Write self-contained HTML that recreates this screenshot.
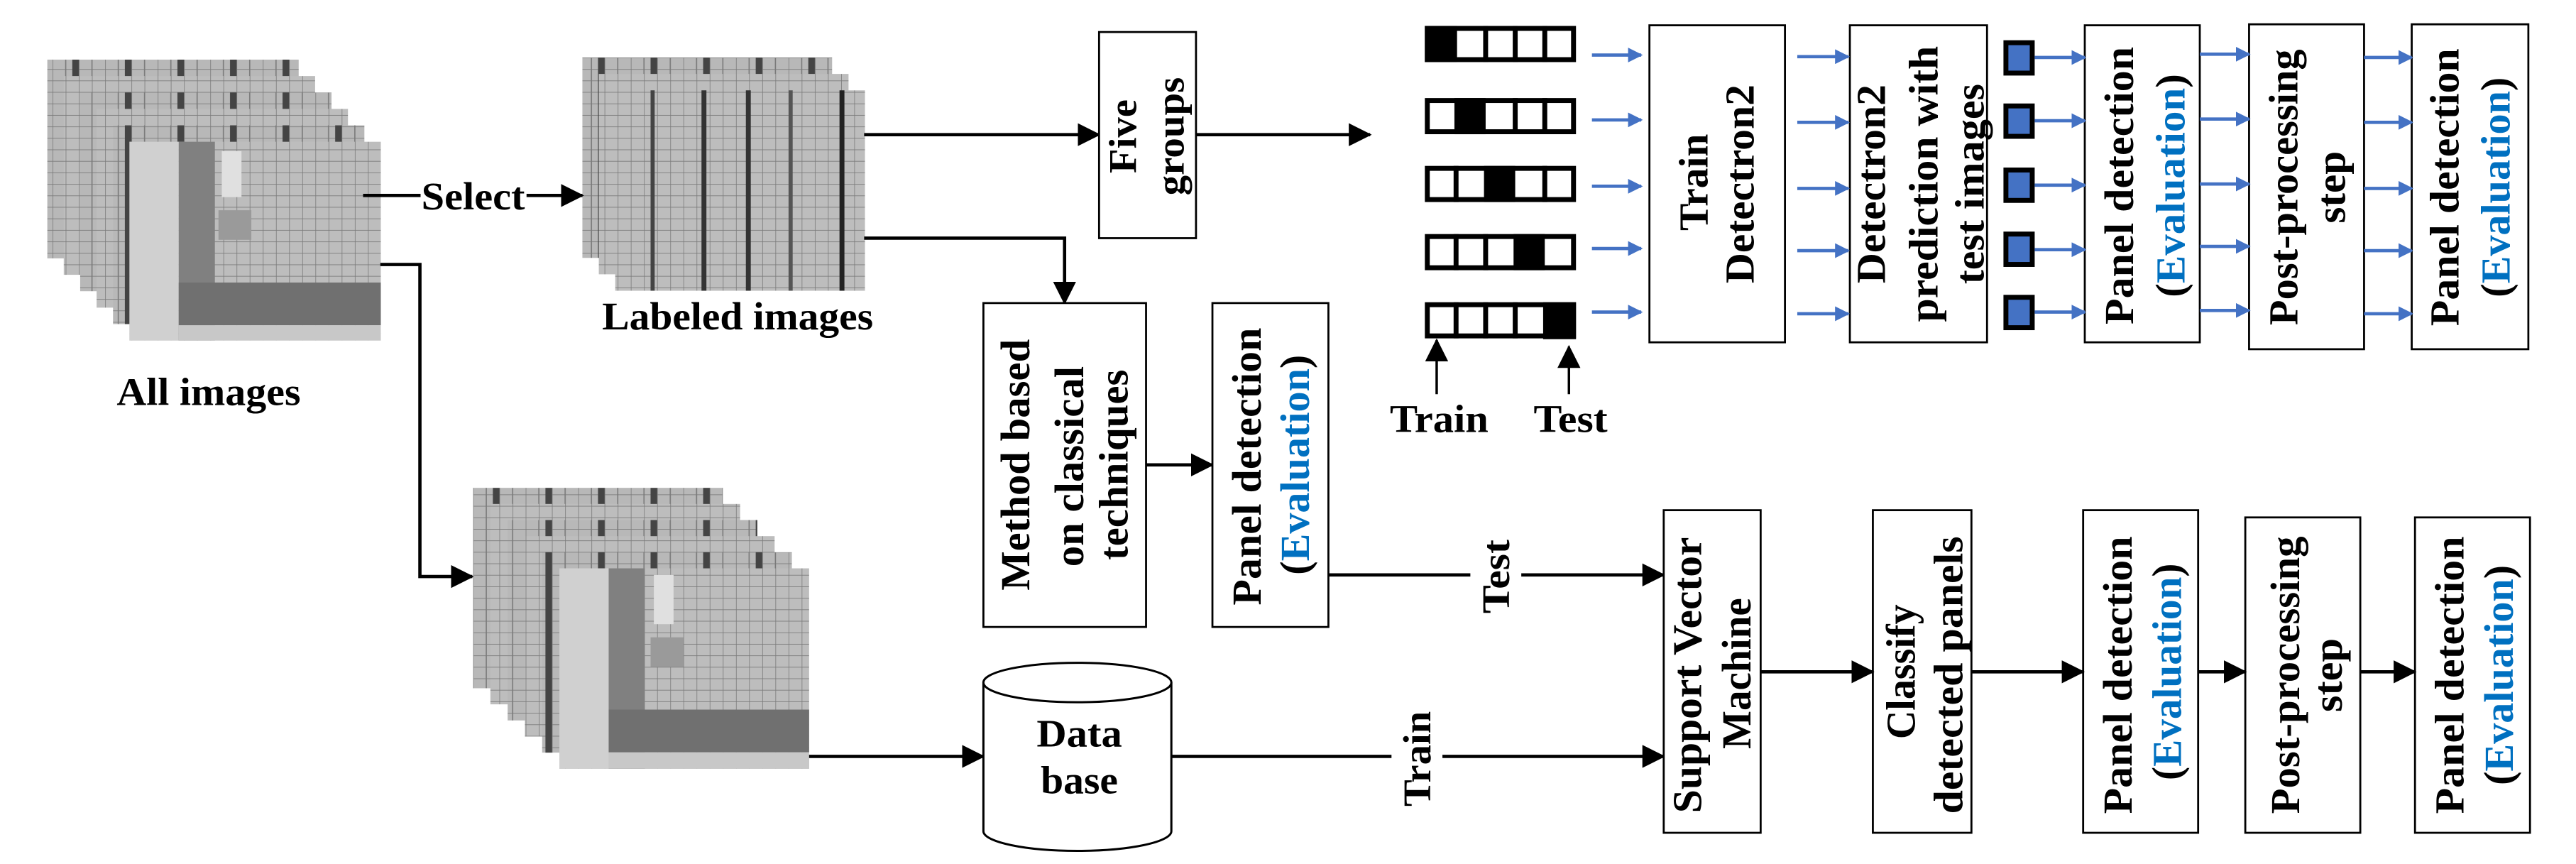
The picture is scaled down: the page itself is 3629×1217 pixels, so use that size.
<!DOCTYPE html>
<html><head><meta charset="utf-8"><style>
html,body{margin:0;padding:0;background:#fff;}
svg{display:block;}
text{font-family:"Liberation Serif",serif;font-weight:bold;fill:#000;}
</style></head><body>
<svg width="3629" height="1217" viewBox="0 0 1568 526" preserveAspectRatio="none" xmlns="http://www.w3.org/2000/svg">
<defs>
<pattern id="g" patternUnits="userSpaceOnUse" width="8" height="7">
<rect width="8" height="7" fill="#bdbdbd"/>
<path d="M0 0H8M0 0V7" stroke="#7a7a7a" stroke-width="0.7"/>
</pattern>
<pattern id="gd" patternUnits="userSpaceOnUse" width="32" height="7">
<rect width="32" height="7" fill="#b8b8b8"/>
<path d="M0 0H32M0 0V7M8 0V7M16 0V7M24 0V7" stroke="#7a7a7a" stroke-width="0.7"/>
<rect x="12" y="0" width="4" height="7" fill="#444"/>
</pattern>
<marker id="ab" markerWidth="14" markerHeight="14" refX="13" refY="7" orient="auto" markerUnits="userSpaceOnUse"><path d="M0 0L14 7L0 14z" fill="#000"/></marker>
<marker id="abl" markerWidth="9" markerHeight="9" refX="8" refY="4.5" orient="auto" markerUnits="userSpaceOnUse"><path d="M0 0L9 4.5L0 9z" fill="#4472c4"/></marker>
</defs>

<g>
<rect x="28.8" y="36.3" width="153" height="121" fill="url(#gd)"/>
<rect x="38.8" y="46.3" width="153" height="121" fill="url(#g)"/>
<rect x="48.8" y="56.3" width="153" height="121" fill="url(#gd)"/>
<rect x="58.8" y="66.3" width="153" height="121" fill="url(#g)"/>
<rect x="68.8" y="76.3" width="153" height="121" fill="url(#gd)"/>
<rect x="78.8" y="86.3" width="153" height="121" fill="url(#g)"/>
<rect x="78.8" y="86.3" width="30" height="121" fill="#d0d0d0"/>
<rect x="108.8" y="86.3" width="22" height="121" fill="#808080"/>
<rect x="108.8" y="172" width="123" height="26" fill="#707070"/>
<rect x="108.8" y="198" width="123" height="9.3" fill="#c8c8c8"/>
<rect x="135" y="92" width="12" height="28" fill="#e0e0e0"/>
<rect x="133" y="128" width="20" height="18" fill="#9a9a9a"/>
</g>
<text x="127" y="246.5" font-size="24" text-anchor="middle" textLength="112" lengthAdjust="spacingAndGlyphs">All images</text>

<g>
<rect x="354.5" y="35" width="152" height="122" fill="url(#gd)"/>
<rect x="364.5" y="45" width="152" height="122" fill="url(#g)"/>
<rect x="374.5" y="55" width="152" height="122" fill="url(#g)"/>
<rect x="396" y="55" width="2.5" height="122" fill="#444"/>
<rect x="427" y="55" width="3" height="122" fill="#333"/>
<rect x="454" y="55" width="3" height="122" fill="#333"/>
<rect x="480" y="55" width="2.5" height="122" fill="#555"/>
<rect x="511" y="55" width="3" height="122" fill="#222"/>
</g>
<text x="449" y="200.6" font-size="24" text-anchor="middle" textLength="165" lengthAdjust="spacingAndGlyphs">Labeled images</text>

<line x1="221" y1="119" x2="256" y2="119" stroke="#000" stroke-width="2"/>
<text x="288" y="127.5" font-size="24" text-anchor="middle" textLength="63" lengthAdjust="spacingAndGlyphs">Select</text>
<line x1="320.5" y1="119" x2="354.5" y2="119" stroke="#000" stroke-width="2" marker-end="url(#ab)"/>

<polyline points="231.5,161 255.6,161 255.6,351 287.5,351" fill="none" stroke="#000" stroke-width="2" marker-end="url(#ab)"/>

<g>
<rect x="288" y="297" width="152" height="122" fill="url(#gd)"/>
<rect x="298.5" y="306.8" width="152" height="122" fill="url(#g)"/>
<rect x="309" y="316.6" width="152" height="122" fill="url(#gd)"/>
<rect x="319.5" y="326.4" width="152" height="122" fill="url(#g)"/>
<rect x="330" y="336.2" width="152" height="122" fill="url(#gd)"/>
<rect x="340.5" y="346" width="152" height="122" fill="url(#g)"/>
<rect x="340.5" y="346" width="30" height="122" fill="#d0d0d0"/>
<rect x="370.5" y="346" width="22" height="122" fill="#808080"/>
<rect x="370.5" y="432" width="122" height="26" fill="#707070"/>
<rect x="370.5" y="458" width="122" height="10" fill="#c8c8c8"/>
<rect x="398" y="350" width="12" height="30" fill="#e0e0e0"/>
<rect x="396" y="388" width="20" height="18" fill="#9a9a9a"/>
</g>
<line x1="492.5" y1="460.5" x2="598.6" y2="460.5" stroke="#000" stroke-width="2" marker-end="url(#ab)"/>

<path d="M598.6 415.5 V506 A57.2 12 0 0 0 713 506 V415.5" fill="#fff" stroke="#000" stroke-width="1.3"/>
<ellipse cx="655.8" cy="415.5" rx="57.2" ry="12" fill="#fff" stroke="#000" stroke-width="1.3"/>
<text x="657" y="454.5" font-size="24" text-anchor="middle" textLength="52" lengthAdjust="spacingAndGlyphs">Data</text>
<text x="657" y="483" font-size="24" text-anchor="middle" textLength="47" lengthAdjust="spacingAndGlyphs">base</text>

<line x1="526" y1="82" x2="669" y2="82" stroke="#000" stroke-width="2" marker-end="url(#ab)"/>
<rect x="669" y="19.5" width="59" height="125.5" fill="#fff" stroke="#000" stroke-width="1.2"/>
<g font-size="24" dominant-baseline="central" text-anchor="middle">
<text transform="translate(684,83) rotate(-90)" textLength="45" lengthAdjust="spacingAndGlyphs">Five</text>
<text transform="translate(713,83) rotate(-90)" textLength="72" lengthAdjust="spacingAndGlyphs">groups</text>
</g>
<line x1="728" y1="82" x2="834" y2="82" stroke="#000" stroke-width="2" marker-end="url(#ab)"/>

<polyline points="526,145 648,145 648,184.5" fill="none" stroke="#000" stroke-width="2" marker-end="url(#ab)"/>
<rect x="598.6" y="184.5" width="99" height="197.2" fill="#fff" stroke="#000" stroke-width="1.2"/>
<g font-size="25" dominant-baseline="central" text-anchor="middle">
<text transform="translate(618,283) rotate(-90)" textLength="153" lengthAdjust="spacingAndGlyphs">Method based</text>
<text transform="translate(651,284) rotate(-90)" textLength="122" lengthAdjust="spacingAndGlyphs">on classical</text>
<text transform="translate(678,283) rotate(-90)" textLength="116" lengthAdjust="spacingAndGlyphs">techniques</text>
</g>
<line x1="697.6" y1="283" x2="738" y2="283" stroke="#000" stroke-width="2" marker-end="url(#ab)"/>
<rect x="738" y="184.5" width="70.6" height="197.2" fill="#fff" stroke="#000" stroke-width="1.2"/>
<g font-size="25" dominant-baseline="central" text-anchor="middle">
<text transform="translate(759,284) rotate(-90)" textLength="169" lengthAdjust="spacingAndGlyphs">Panel detection</text>
<text transform="translate(788,283) rotate(-90)" textLength="134" lengthAdjust="spacingAndGlyphs">(<tspan fill="#0070c0">Evaluation</tspan>)</text>
</g>

<line x1="808.6" y1="350" x2="895" y2="350" stroke="#000" stroke-width="2"/>
<line x1="926" y1="350" x2="1012.7" y2="350" stroke="#000" stroke-width="2" marker-end="url(#ab)"/>
<text transform="translate(911,351) rotate(-90)" font-size="24" dominant-baseline="central" text-anchor="middle" textLength="45" lengthAdjust="spacingAndGlyphs">Test</text>
<line x1="713" y1="460.5" x2="847" y2="460.5" stroke="#000" stroke-width="2"/>
<line x1="878" y1="460.5" x2="1012.7" y2="460.5" stroke="#000" stroke-width="2" marker-end="url(#ab)"/>
<text transform="translate(863,462) rotate(-90)" font-size="24" dominant-baseline="central" text-anchor="middle" textLength="58" lengthAdjust="spacingAndGlyphs">Train</text>

<g fill="#fff" stroke="#000" stroke-width="1.2">
<rect x="1012.7" y="310.6" width="59" height="196.4"/>
<rect x="1140" y="310.6" width="60" height="196.4"/>
<rect x="1268" y="310.6" width="70" height="196.4"/>
<rect x="1366.7" y="315" width="70" height="192"/>
<rect x="1470" y="315" width="70" height="192"/>
</g>
<g stroke="#000" stroke-width="2">
<line x1="1071.7" y1="409" x2="1140" y2="409" marker-end="url(#ab)"/>
<line x1="1200" y1="409" x2="1268" y2="409" marker-end="url(#ab)"/>
<line x1="1338" y1="409" x2="1366.7" y2="409" marker-end="url(#ab)"/>
<line x1="1436.7" y1="409" x2="1470" y2="409" marker-end="url(#ab)"/>
</g>
<g font-size="25" dominant-baseline="central" text-anchor="middle">
<text transform="translate(1027,411) rotate(-90)" textLength="168" lengthAdjust="spacingAndGlyphs">Support Vector</text>
<text transform="translate(1057,410) rotate(-90)" textLength="92" lengthAdjust="spacingAndGlyphs">Machine</text>
<text transform="translate(1157,409) rotate(-90)" textLength="82" lengthAdjust="spacingAndGlyphs">Classify</text>
<text transform="translate(1186,411) rotate(-90)" textLength="169" lengthAdjust="spacingAndGlyphs">detected panels</text>
<text transform="translate(1289,411) rotate(-90)" textLength="169" lengthAdjust="spacingAndGlyphs">Panel detection</text>
<text transform="translate(1319,409) rotate(-90)" textLength="132" lengthAdjust="spacingAndGlyphs">(<tspan fill="#0070c0">Evaluation</tspan>)</text>
<text transform="translate(1391,411) rotate(-90)" textLength="169" lengthAdjust="spacingAndGlyphs">Post-processing</text>
<text transform="translate(1417,411) rotate(-90)" textLength="45" lengthAdjust="spacingAndGlyphs">step</text>
<text transform="translate(1491,411) rotate(-90)" textLength="169" lengthAdjust="spacingAndGlyphs">Panel detection</text>
<text transform="translate(1521,411) rotate(-90)" textLength="134" lengthAdjust="spacingAndGlyphs">(<tspan fill="#0070c0">Evaluation</tspan>)</text>
</g>

<g>
<g transform="translate(867.3,15.8)">
<rect x="1.5" y="1.5" width="89" height="19" fill="#fff" stroke="#000" stroke-width="3"/>
<rect x="0" y="0" width="19.6" height="22" fill="#000"/>
<path d="M37 0V22M55 0V22M73 0V22" stroke="#000" stroke-width="3"/>
</g>
<g transform="translate(867.3,59.7)">
<rect x="1.5" y="1.5" width="89" height="19" fill="#fff" stroke="#000" stroke-width="3"/>
<rect x="18" y="0" width="19" height="22" fill="#000"/>
<path d="M55 0V22M73 0V22" stroke="#000" stroke-width="3"/>
</g>
<g transform="translate(867.3,101)">
<rect x="1.5" y="1.5" width="89" height="19" fill="#fff" stroke="#000" stroke-width="3"/>
<rect x="36" y="0" width="19" height="22" fill="#000"/>
<path d="M19 0V22M73 0V22" stroke="#000" stroke-width="3"/>
</g>
<g transform="translate(867.3,142.5)">
<rect x="1.5" y="1.5" width="89" height="19" fill="#fff" stroke="#000" stroke-width="3"/>
<rect x="54" y="0" width="19" height="22" fill="#000"/>
<path d="M19 0V22M37 0V22" stroke="#000" stroke-width="3"/>
</g>
<g transform="translate(867.3,184)">
<rect x="1.5" y="1.5" width="89" height="19" fill="#fff" stroke="#000" stroke-width="3"/>
<rect x="72" y="0" width="20" height="22.5" fill="#000"/>
<path d="M19 0V22M37 0V22M55 0V22" stroke="#000" stroke-width="3"/>
</g>
</g>
<line x1="874.5" y1="240" x2="874.5" y2="207" stroke="#000" stroke-width="1.5" marker-end="url(#ab)"/>
<line x1="955" y1="240" x2="955" y2="211" stroke="#000" stroke-width="1.5" marker-end="url(#ab)"/>
<text x="876" y="263" font-size="24" text-anchor="middle" textLength="60" lengthAdjust="spacingAndGlyphs">Train</text>
<text x="956" y="263" font-size="24" text-anchor="middle" textLength="45" lengthAdjust="spacingAndGlyphs">Test</text>

<g fill="#fff" stroke="#000" stroke-width="1.2">
<rect x="1004" y="15.4" width="82.5" height="193"/>
<rect x="1126" y="15.4" width="83.5" height="193"/>
<rect x="1269" y="15.4" width="70" height="193"/>
<rect x="1369" y="14.8" width="70" height="197.8"/>
<rect x="1468" y="14.8" width="71" height="197.8"/>
</g>
<g fill="#4472c4" stroke="#000" stroke-width="3">
<rect x="1221" y="26" width="16" height="18.5"/>
<rect x="1221" y="64.5" width="16" height="18.5"/>
<rect x="1221" y="103.5" width="16" height="18.5"/>
<rect x="1221" y="142.5" width="16" height="18.5"/>
<rect x="1221" y="181" width="16" height="18.5"/>
</g>
<g stroke="#4472c4" stroke-width="2" marker-end="url(#abl)">
<line x1="969" y1="33.5" x2="999" y2="33.5"/>
<line x1="969" y1="73" x2="999" y2="73"/>
<line x1="969" y1="113.4" x2="999" y2="113.4"/>
<line x1="969" y1="151.3" x2="999" y2="151.3"/>
<line x1="969" y1="190" x2="999" y2="190"/>
<line x1="1094" y1="34.5" x2="1125" y2="34.5"/>
<line x1="1094" y1="74.5" x2="1125" y2="74.5"/>
<line x1="1094" y1="114.7" x2="1125" y2="114.7"/>
<line x1="1094" y1="152.6" x2="1125" y2="152.6"/>
<line x1="1094" y1="191" x2="1125" y2="191"/>
<line x1="1238.5" y1="35" x2="1269" y2="35"/>
<line x1="1238.5" y1="73.5" x2="1269" y2="73.5"/>
<line x1="1238.5" y1="112.7" x2="1269" y2="112.7"/>
<line x1="1238.5" y1="152" x2="1269" y2="152"/>
<line x1="1238.5" y1="190" x2="1269" y2="190"/>
<line x1="1339" y1="33" x2="1369" y2="33"/>
<line x1="1339" y1="72.5" x2="1369" y2="72.5"/>
<line x1="1339" y1="112" x2="1369" y2="112"/>
<line x1="1339" y1="150" x2="1369" y2="150"/>
<line x1="1339" y1="189" x2="1369" y2="189"/>
<line x1="1439" y1="35" x2="1468" y2="35"/>
<line x1="1439" y1="74.5" x2="1468" y2="74.5"/>
<line x1="1439" y1="114.7" x2="1468" y2="114.7"/>
<line x1="1439" y1="152.6" x2="1468" y2="152.6"/>
<line x1="1439" y1="191" x2="1468" y2="191"/>
</g>
<g font-size="25" dominant-baseline="central" text-anchor="middle">
<text transform="translate(1031,111) rotate(-90)" textLength="59" lengthAdjust="spacingAndGlyphs">Train</text>
<text transform="translate(1059,112) rotate(-90)" textLength="121" lengthAdjust="spacingAndGlyphs">Detectron2</text>
<text transform="translate(1139,112) rotate(-90)" textLength="121" lengthAdjust="spacingAndGlyphs">Detectron2</text>
<text transform="translate(1171,112) rotate(-90)" textLength="168" lengthAdjust="spacingAndGlyphs">prediction with</text>
<text transform="translate(1199,112) rotate(-90)" textLength="122" lengthAdjust="spacingAndGlyphs">test images</text>
<text transform="translate(1290,113) rotate(-90)" textLength="169" lengthAdjust="spacingAndGlyphs">Panel detection</text>
<text transform="translate(1321,113) rotate(-90)" textLength="136" lengthAdjust="spacingAndGlyphs">(<tspan fill="#0070c0">Evaluation</tspan>)</text>
<text transform="translate(1390,114) rotate(-90)" textLength="168" lengthAdjust="spacingAndGlyphs">Post-processing</text>
<text transform="translate(1419,114) rotate(-90)" textLength="44" lengthAdjust="spacingAndGlyphs">step</text>
<text transform="translate(1488,114) rotate(-90)" textLength="169" lengthAdjust="spacingAndGlyphs">Panel detection</text>
<text transform="translate(1519,114) rotate(-90)" textLength="134" lengthAdjust="spacingAndGlyphs">(<tspan fill="#0070c0">Evaluation</tspan>)</text>
</g>
</svg>
</body></html>
